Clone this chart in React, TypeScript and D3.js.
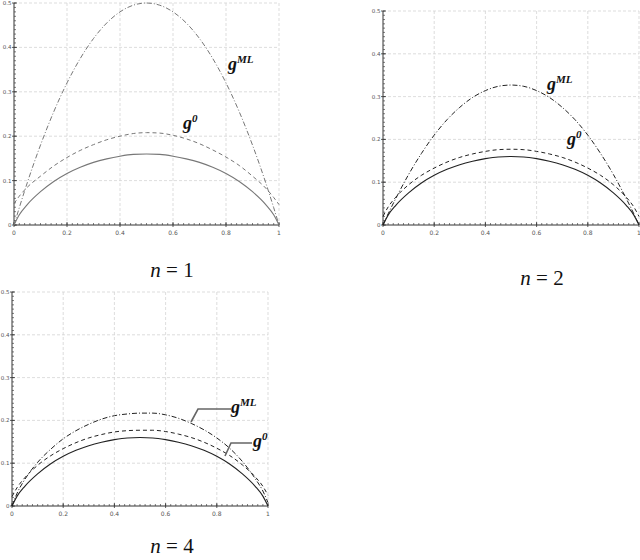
import React from 'react';
import * as d3 from 'd3';

// sample points along p (shared by every curve)
const xs = [0, 0.02, 0.05, 0.1, 0.15, 0.2, 0.25, 0.3, 0.35, 0.4, 0.45, 0.5, 0.55, 0.6, 0.65, 0.7, 0.75, 0.8, 0.85, 0.9, 0.95, 0.98, 1];

// solid curve, identical in all panels
const solid = [0, 0.023, 0.046, 0.075, 0.098, 0.116, 0.130, 0.141, 0.149, 0.155, 0.159, 0.160, 0.159, 0.155, 0.149, 0.141, 0.130, 0.116, 0.098, 0.075, 0.046, 0.023, 0];

// n = 1
const g0n1 = [0.048, 0.065, 0.085, 0.110, 0.133, 0.152, 0.168, 0.181, 0.192, 0.200, 0.206, 0.208, 0.207, 0.202, 0.194, 0.183, 0.169, 0.153, 0.134, 0.110, 0.083, 0.062, 0.046];
const gmln1 = [0, 0.039, 0.095, 0.180, 0.255, 0.320, 0.375, 0.420, 0.455, 0.480, 0.495, 0.500, 0.495, 0.480, 0.455, 0.420, 0.375, 0.320, 0.255, 0.180, 0.095, 0.039, 0];

// n = 2
const g0n2 = [0.020, 0.042, 0.065, 0.094, 0.116, 0.133, 0.147, 0.158, 0.166, 0.172, 0.176, 0.177, 0.176, 0.172, 0.166, 0.158, 0.147, 0.133, 0.116, 0.094, 0.065, 0.042, 0.020];
const gmln2 = [0, 0.026, 0.062, 0.118, 0.167, 0.210, 0.246, 0.275, 0.298, 0.314, 0.324, 0.327, 0.324, 0.314, 0.298, 0.275, 0.246, 0.210, 0.167, 0.118, 0.062, 0.026, 0];

// n = 4
const g0n4 = [0.022, 0.043, 0.066, 0.095, 0.117, 0.134, 0.148, 0.159, 0.167, 0.173, 0.176, 0.177, 0.177, 0.174, 0.168, 0.160, 0.149, 0.135, 0.118, 0.096, 0.068, 0.046, 0.025];
const gmln4 = [0, 0.030, 0.062, 0.102, 0.132, 0.157, 0.176, 0.191, 0.203, 0.211, 0.215, 0.217, 0.217, 0.213, 0.205, 0.193, 0.178, 0.159, 0.135, 0.104, 0.064, 0.035, 0.008];

const xTicks = [0, 0.2, 0.4, 0.6, 0.8, 1];
const yTicks = [0, 0.1, 0.2, 0.3, 0.4, 0.5];

const serif: React.CSSProperties = { fontFamily: '"Liberation Serif", "DejaVu Serif", serif' };

interface Label {
    sup: string;
    x: number;
    y: number;
    leader?: [number, number][];
}

interface PanelProps {
    left: number;
    right: number;
    top: number;
    bottom: number;
    g0: number[];
    gml: number[];
    ink: string;
    labels: Label[];
    caption: string;
    capX: number;
    capY: number;
}

function Panel({ left, right, top, bottom, g0, gml, ink, labels, caption, capX, capY }: PanelProps) {
    const x = d3.scaleLinear().domain([0, 1]).range([left, right]);
    const y = d3.scaleLinear().domain([0, 0.5]).range([bottom, top]);
    const line = (vals: number[]) =>
        d3.line<number>().x((_, i) => x(xs[i])).y(d => y(d)).curve(d3.curveMonotoneX)(vals) || '';

    const minorX = d3.range(0, 1.0001, 0.02);
    const minorY = d3.range(0, 0.5001, 0.01);
    const fmt = (v: number) => (v === 0 ? '0' : v === 1 ? '1' : String(+v.toFixed(1)));

    return (
        <g>
            {/* grid */}
            {xTicks.slice(1).map(t => (
                <line key={'gx' + t} x1={x(t)} x2={x(t)} y1={top} y2={bottom} stroke="#d4d4d4" strokeWidth={0.8} strokeDasharray="3,2" />
            ))}
            {yTicks.slice(1).map(t => (
                <line key={'gy' + t} x1={left} x2={right} y1={y(t)} y2={y(t)} stroke="#d4d4d4" strokeWidth={0.8} strokeDasharray="3,2" />
            ))}
            {/* axes */}
            <line x1={left} x2={right} y1={bottom} y2={bottom} stroke="#333" strokeWidth={1} />
            <line x1={left} x2={left} y1={top} y2={bottom} stroke="#333" strokeWidth={1} />
            {minorX.map(t => (
                <line key={'mx' + t} x1={x(t)} x2={x(t)} y1={bottom} y2={bottom - 2} stroke="#444" strokeWidth={0.7} />
            ))}
            {minorY.map(t => (
                <line key={'my' + t} x1={left} x2={left + 2} y1={y(t)} y2={y(t)} stroke="#444" strokeWidth={0.7} />
            ))}
            {xTicks.map(t => (
                <g key={'tx' + t}>
                    <line x1={x(t)} x2={x(t)} y1={bottom + 2} y2={bottom - 3} stroke="#333" strokeWidth={0.8} />
                    <text x={x(t)} y={bottom + 10} fontSize={6} fill="#555" textAnchor="middle" fontFamily="DejaVu Sans">{fmt(t)}</text>
                </g>
            ))}
            {yTicks.map(t => (
                <g key={'ty' + t}>
                    <line x1={left - 2} x2={left + 3} y1={y(t)} y2={y(t)} stroke="#333" strokeWidth={0.8} />
                    <text x={left - 2.5} y={y(t) + 2} fontSize={5.5} fill="#555" textAnchor="end" fontFamily="DejaVu Sans">{fmt(t)}</text>
                </g>
            ))}
            {/* curves */}
            <path d={line(solid)} fill="none" stroke={ink} strokeWidth={1.1} />
            <path d={line(g0)} fill="none" stroke={ink} strokeWidth={1} strokeDasharray="4,3" />
            <path d={line(gml)} fill="none" stroke={ink} strokeWidth={1} strokeDasharray="5,2,1,2" />
            {/* labels */}
            {labels.map(l => (
                <g key={l.sup}>
                    {l.leader && (
                        <polyline points={l.leader.map(p => p.join(',')).join(' ')} fill="none" stroke="#666" strokeWidth={1.6} />
                    )}
                    <text x={l.x} y={l.y} style={serif} fontStyle="italic" fontWeight="bold" fontSize={18} fill="#111">
                        g<tspan fontSize={11} dy={-7}>{l.sup}</tspan>
                    </text>
                </g>
            ))}
            <text x={capX} y={capY} textAnchor="middle" style={serif} fontSize={21} fill="#111">
                <tspan fontStyle="italic">n</tspan> = {caption}
            </text>
        </g>
    );
}

export default function App() {
    return (
        <svg width={640} height={560} style={{ position: 'absolute', left: 0, top: 0, background: '#fff' }}>
            <Panel left={14} right={279} top={3} bottom={225} g0={g0n1} gml={gmln1} ink="#777"
                labels={[{ sup: 'ML', x: 228, y: 70 }, { sup: '0', x: 183, y: 129 }]}
                caption="1" capX={172} capY={277} />
            <Panel left={383} right={639} top={11} bottom={225} g0={g0n2} gml={gmln2} ink="#222"
                labels={[{ sup: 'ML', x: 547, y: 90 }, { sup: '0', x: 567, y: 145 }]}
                caption="2" capX={542} capY={285} />
            <Panel left={12} right={268} top={292} bottom={506} g0={g0n4} gml={gmln4} ink="#222"
                labels={[
                    { sup: 'ML', x: 231, y: 413, leader: [[191, 422], [198, 409], [231, 409]] },
                    { sup: '0', x: 253, y: 447, leader: [[225, 456], [231, 443], [252, 443]] },
                ]}
                caption="4" capX={172} capY={553} />
        </svg>
    );
}
